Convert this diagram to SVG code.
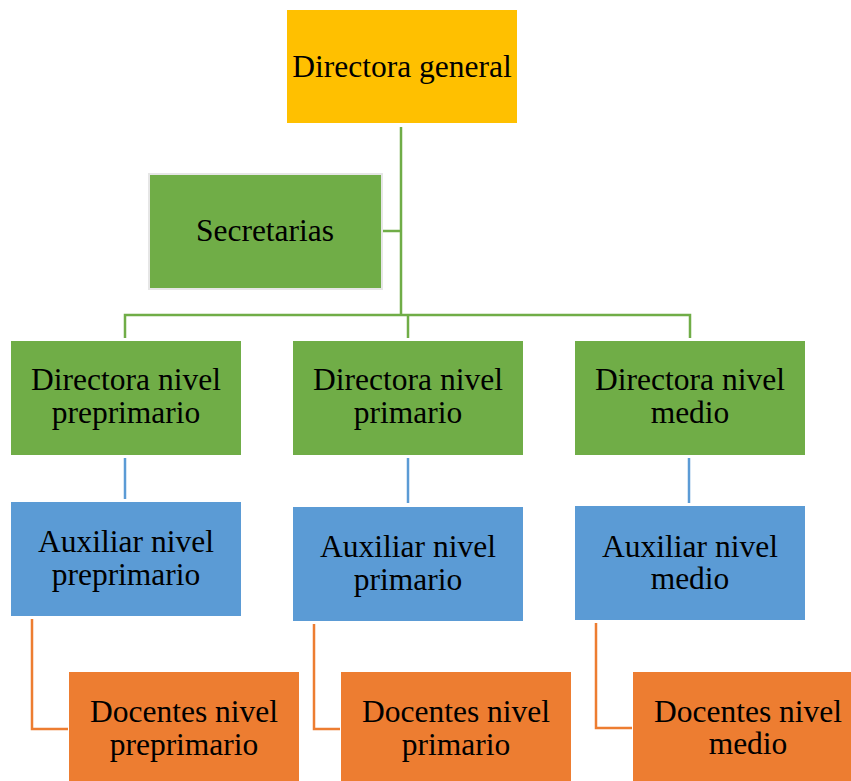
<svg xmlns="http://www.w3.org/2000/svg" width="851" height="781" viewBox="0 0 851 781">
<style>
text{font-family:"Liberation Serif","Times New Roman",serif;font-size:31.5px;fill:#000;text-anchor:middle}
.g{fill:#70AD47}.b{fill:#5B9BD5}.o{fill:#ED7D31}.y{fill:#FFC000}
.lg{stroke:#70AD47;stroke-width:2.5;fill:none}
.lb{stroke:#5B9BD5;stroke-width:2.5;fill:none}
.lo{stroke:#ED7D31;stroke-width:2.5;fill:none}
</style>
<rect width="851" height="781" fill="#fff"/>
<g id="connectors">
<path class="lg" d="M401,127V315M383,231H401M125,338V315H690V338M408,315V338"/>
<path class="lb" d="M125,458V499M408,458V503M689,458V503"/>
<path class="lo" d="M32,619V729H68M314,624V729H340M596,623V728H632"/>
</g>
<g id="directora-general"><rect class="y" x="287" y="10" width="230" height="113"/><text x="402" y="77">Directora general</text></g>
<g id="secretarias"><rect class="g" x="149" y="174" width="233" height="115" stroke="#e6e6e6" stroke-width="2"/><text x="265" y="241">Secretarias</text></g>
<g id="dir-preprimario"><rect class="g" x="11" y="341" width="230" height="114"/><text x="126" y="390">Directora nivel</text><text x="126" y="423">preprimario</text></g>
<g id="dir-primario"><rect class="g" x="293" y="341" width="230" height="114"/><text x="408" y="390">Directora nivel</text><text x="408" y="423">primario</text></g>
<g id="dir-medio"><rect class="g" x="575" y="341" width="230" height="114"/><text x="690" y="390">Directora nivel</text><text x="690" y="423">medio</text></g>
<g id="aux-preprimario"><rect class="b" x="11" y="502" width="230" height="114"/><text x="126" y="552">Auxiliar nivel</text><text x="126" y="585">preprimario</text></g>
<g id="aux-primario"><rect class="b" x="293" y="507" width="230" height="114"/><text x="408" y="557">Auxiliar nivel</text><text x="408" y="590">primario</text></g>
<g id="aux-medio"><rect class="b" x="575" y="506" width="230" height="114"/><text x="690" y="557">Auxiliar nivel</text><text x="690" y="589">medio</text></g>
<g id="doc-preprimario"><rect class="o" x="69" y="672" width="230" height="114"/><text x="184" y="722">Docentes nivel</text><text x="184" y="755">preprimario</text></g>
<g id="doc-primario"><rect class="o" x="341" y="672" width="230" height="114"/><text x="456" y="722">Docentes nivel</text><text x="456" y="755">primario</text></g>
<g id="doc-medio"><rect class="o" x="633" y="672" width="230" height="114"/><text x="748" y="722">Docentes nivel</text><text x="748" y="754">medio</text></g>
</svg>
